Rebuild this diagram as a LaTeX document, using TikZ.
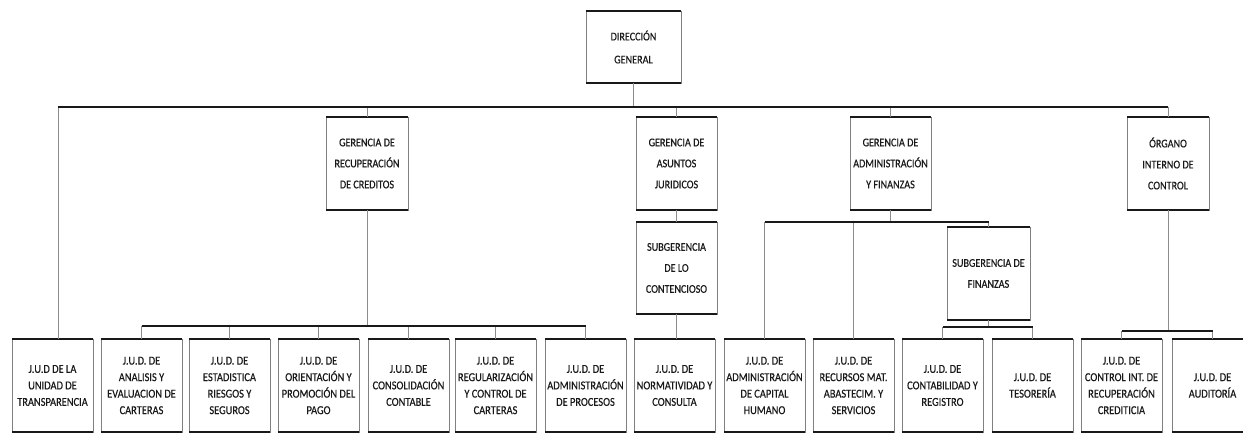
\documentclass[tikz,border=0pt]{standalone}
\usepackage{fontspec}
\newfontfamily\boxfont[FakeStretch=0.86,FakeBold=0.4]{Carlito}
\tikzset{
  boxbase/.style={draw=black!50, line width=0.6pt, fill=white, align=center,
    inner sep=1pt, outer sep=0pt, text=black!90,
    append after command={
      (\tikzlastnode.north west) edge[line width=2pt, draw=black!90] (\tikzlastnode.north east)
      (\tikzlastnode.south west) edge[line width=2pt, draw=black!90] (\tikzlastnode.south east)}},
  upbox/.style={boxbase, minimum width=81pt, minimum height=93pt,
    font=\boxfont\fontsize{11.8}{21}\selectfont},
  jud/.style={boxbase, minimum width=81pt, minimum height=93pt,
    font=\boxfont\fontsize{12.1}{16.5}\selectfont},
  hbar/.style={draw=black!90, line width=1.6pt},
  vline/.style={draw=black!45, line width=0.8pt},
}
\begin{document}
\begin{tikzpicture}[x=1pt,y=-1pt]
\fill[white] (0,0) rectangle (1243,433);
\useasboundingbox (0,0) rectangle (1243,433);

% top level
\node[upbox, minimum width=95pt, minimum height=72pt, font=\boxfont\fontsize{11.8}{23}\selectfont] (dg) at (633.5,47) {DIRECCIÓN\\GENERAL};

% second level
\node[upbox, minimum width=82pt] (g1) at (367,163.5) {GERENCIA DE\\RECUPERACIÓN\\DE CREDITOS};
\node[upbox] (g2) at (676.5,163.5) {GERENCIA DE\\ASUNTOS\\JURIDICOS};
\node[upbox] (g3) at (890.5,163.5) {GERENCIA DE\\ADMINISTRACIÓN\\Y FINANZAS};
\node[upbox, minimum width=82pt] (g4) at (1168,163.5) {ÓRGANO\\INTERNO DE\\CONTROL};

% sub-management
\node[upbox, minimum height=92pt] (s1) at (676.5,268) {SUBGERENCIA\\DE LO\\CONTENCIOSO};
\node[upbox, minimum width=83pt] (s2) at (988.5,273.5) {SUBGERENCIA DE\\FINANZAS};

% bottom level
\node[jud] (j1) at (52.5,385.5) {J.U.D DE LA\\UNIDAD DE\\TRANSPARENCIA};
\node[jud] (j2) at (141.5,385.5) {J.U.D. DE\\ANALISIS Y\\EVALUACION DE\\CARTERAS};
\node[jud] (j3) at (229.5,385.5) {J.U.D. DE\\ESTADISTICA\\RIESGOS Y\\SEGUROS};
\node[jud] (j4) at (318.5,385.5) {J.U.D. DE\\ORIENTACIÓN Y\\PROMOCIÓN DEL\\PAGO};
\node[jud] (j5) at (408.5,385.5) {J.U.D. DE\\CONSOLIDACIÓN\\CONTABLE};
\node[jud] (j6) at (495.5,385.5) {J.U.D. DE\\REGULARIZACIÓN\\Y CONTROL DE\\CARTERAS};
\node[jud] (j7) at (585.5,385.5) {J.U.D. DE\\ADMINISTRACIÓN\\DE PROCESOS};
\node[jud] (j8) at (674.5,385.5) {J.U.D. DE\\NORMATIVIDAD Y\\CONSULTA};
\node[jud] (j9) at (764.5,385.5) {J.U.D. DE\\ADMINISTRACIÓN\\DE CAPITAL\\HUMANO};
\node[jud] (j10) at (853.5,385.5) {J.U.D. DE\\RECURSOS MAT.\\ABASTECIM. Y\\SERVICIOS};
\node[jud] (j11) at (942.5,385.5) {J.U.D. DE\\CONTABILIDAD Y\\REGISTRO};
\node[jud] (j12) at (1032.5,385.5) {J.U.D. DE\\TESORERÍA};
\node[jud] (j13) at (1121.5,385.5) {J.U.D. DE\\CONTROL INT. DE\\RECUPERACIÓN\\CREDITICIA};
\node[jud] (j14) at (1212.5,385.5) {J.U.D. DE\\AUDITORÍA};

% junction coordinates
\coordinate (mL) at (58,107);
\coordinate (mR) at (1168,107);
\coordinate (bA) at (0,326);
\coordinate (bB) at (0,222);
\coordinate (bC) at (0,327);
\coordinate (bD) at (0,331);

% main level connectors
\draw[vline] (dg.south) -- (dg.south |- mL);
\draw[vline] (g1.north |- mL) -- (g1.north);
\draw[vline] (g2.north |- mL) -- (g2.north);
\draw[vline] (g3.north |- mL) -- (g3.north);
\draw[vline] (mR) -- (g4.north);
\draw[vline] (mL) -- (mL |- j1.north);
\draw[hbar] (mL) -- (mR);

% recuperacion group
\draw[vline] (g1.south) -- (g1.south |- bA);
\foreach \j in {j2,j3,j4,j5,j6,j7} {\draw[vline] (\j.north |- bA) -- (\j.north);}
\draw[hbar] (j2.north |- bA) -- (j7.north |- bA);

% asuntos juridicos
\draw[vline] (g2.south) -- (s1.north);
\draw[vline] (s1.south) -- (s1.south |- j8.north);

% administracion y finanzas
\draw[vline] (g3.south) -- (g3.south |- bB);
\draw[vline] (j9.north |- bB) -- (j9.north);
\draw[vline] (j10.north |- bB) -- (j10.north);
\draw[vline] (s2.north |- bB) -- (s2.north);
\draw[hbar] (j9.north |- bB) -- (s2.north |- bB);

% subgerencia de finanzas
\draw[vline] (s2.south) -- (s2.south |- bC);
\draw[vline] (j11.north |- bC) -- (j11.north);
\draw[vline] (j12.north |- bC) -- (j12.north);
\draw[hbar] (j11.north |- bC) -- (j12.north |- bC);

% organo interno de control
\draw[vline] (g4.south) -- (g4.south |- bD);
\draw[vline] (j13.north |- bD) -- (j13.north);
\draw[vline] (j14.north |- bD) -- (j14.north);
\draw[hbar] (j13.north |- bD) -- (j14.north |- bD);
\end{tikzpicture}
\end{document}
